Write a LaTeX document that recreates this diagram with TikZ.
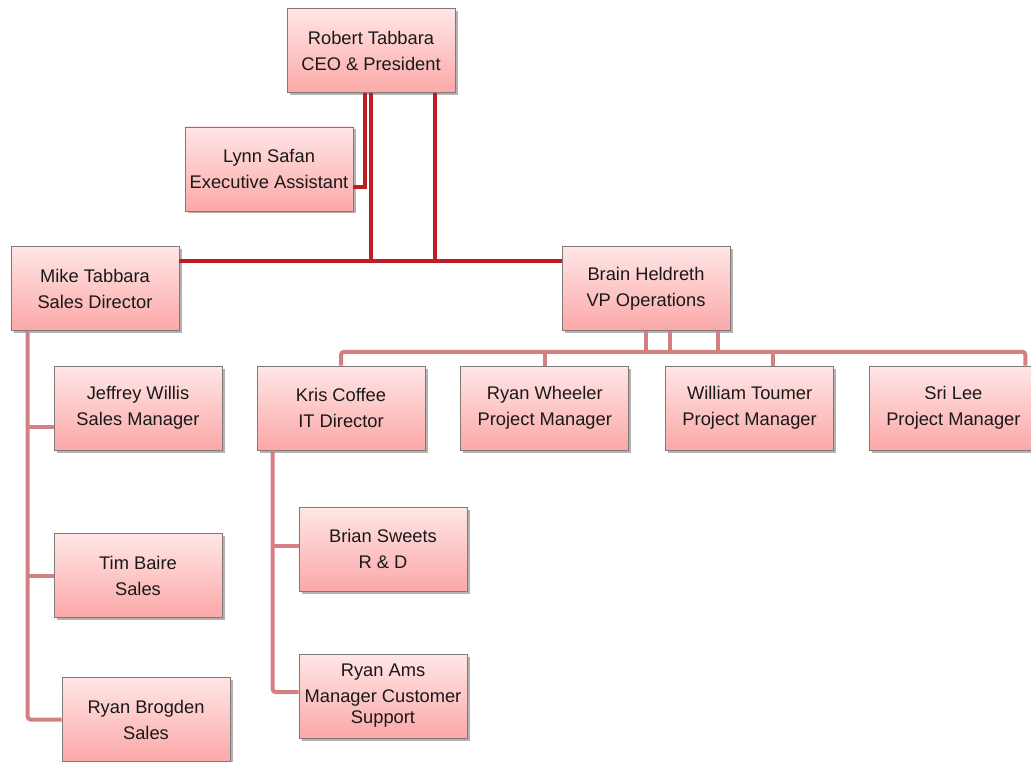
\documentclass[tikz,border=0pt]{standalone}
\usepackage{fontspec}
\setmainfont{Liberation Sans}
\usetikzlibrary{positioning,calc,shadows}
\definecolor{boxtop}{RGB}{255,230,230}
\definecolor{boxbot}{RGB}{252,168,168}
\definecolor{boxline}{RGB}{130,120,120}
\definecolor{lnkdark}{RGB}{192,28,36}
\definecolor{lnklight}{RGB}{212,128,130}
\tikzset{
  pblk/.style={draw=boxline,rectangle,line width=0.8pt,minimum width=168pt,minimum height=84pt,inner sep=0pt,
    top color=boxtop,bottom color=boxbot,align=center,text=black!90,
    font=\fontsize{18.3}{21}\selectfont,
    drop shadow={shadow xshift=2.5pt,shadow yshift=-2.5pt,opacity=0.3,fill=black}},
  dlnk/.style={line width=4pt,draw=lnkdark},
  llnk/.style={line width=4pt,draw=lnklight,rounded corners=3pt}
}
\begin{document}
\begin{tikzpicture}[x=1pt,y=-1pt,node distance=35pt and 35pt]
  \useasboundingbox (0,0) rectangle (1031,762);

  \node[pblk] (ceo) at (371,50.5) {Robert Tabbara\\[5pt]CEO \& President};
  \node[pblk] (lynn) at (269,169) {Lynn Safan\\[5pt]Executive Assistant};
  \node[pblk] (mike) at (95,288.5) {Mike Tabbara\\[5pt]Sales Director};
  \node[pblk] (brain) at (646,288.5) {Brain Heldreth\\[5pt]VP Operations};

  \node[pblk] (kris) at (341,408) {Kris Coffee\\[5pt]IT Director};
  \node[pblk, right=35pt of kris] (wheeler) {Ryan Wheeler\\[5pt]Project Manager};
  \node[pblk, right=36pt of wheeler] (toumer) {William Toumer\\[5pt]Project Manager};
  \node[pblk, right=35pt of toumer] (srilee) {Sri Lee\\[5pt]Project Manager};

  \node[pblk] (jeff) at (138,408) {Jeffrey Willis\\[5pt]Sales Manager};
  \node[pblk, below=83pt of jeff] (tim) {Tim Baire\\[5pt]Sales};
  \node[pblk] (brogden) at (146,719.5) {Ryan Brogden\\[5pt]Sales};

  \node[pblk] (sweets) at (383,549) {Brian Sweets\\[5pt]R \& D};
  \node[pblk] (ams) at (383,696) {Ryan Ams\\[5pt]Manager Customer\\Support};

  % top level
  \coordinate (bus) at ($(mike.north east)+(0,15)$);
  \coordinate (ca) at ($(ceo.south)+(-6,0)$);
  \coordinate (cb) at ($(ceo.south)+(64,0)$);
  \coordinate (la) at ($(lynn.east)+(0,18)$);
  \draw[dlnk] (la) -| (ca);
  \draw[dlnk] (ceo.south) -- (ceo.south |- bus);
  \draw[dlnk] (cb) -- (cb |- bus);
  \draw[dlnk] (mike.east |- bus) -- (brain.west |- bus);

  % sales
  \coordinate (ma) at ($(mike.south west)+(17,0)$);
  \draw[llnk] (ma) |- (brogden.west);
  \draw[llnk] (ma |- 0,427) -- (jeff.west |- 0,427);
  \draw[llnk] (ma |- tim.west) -- (tim.west);

  % operations
  \coordinate (bb) at ($(brain.south)+(0,21)$);
  \coordinate (sa) at ($(srilee.north)+(72,0)$);
  \coordinate (ta) at ($(toumer.north)+(23,0)$);
  \coordinate (ba) at ($(brain.south)+(24,0)$);
  \coordinate (bc) at ($(brain.south)+(72,0)$);
  \draw[llnk] (kris.north) |- (bb) -| (sa);
  \draw[llnk] (brain.south) -- (bb);
  \draw[llnk] (ba) -- (ba |- bb);
  \draw[llnk] (bc) -- (bc |- bb);
  \draw[llnk] (wheeler.north) -- (wheeler.north |- bb);
  \draw[llnk] (ta) -- (ta |- bb);

  % it
  \coordinate (ka) at ($(kris.south west)+(16,0)$);
  \draw[llnk] (ka) |- ($(ams.west)+(0,-4)$);
  \draw[llnk] (ka |- sweets.west) ++(0,-3) -- ($(sweets.west)+(0,-3)$);
\end{tikzpicture}
\end{document}
